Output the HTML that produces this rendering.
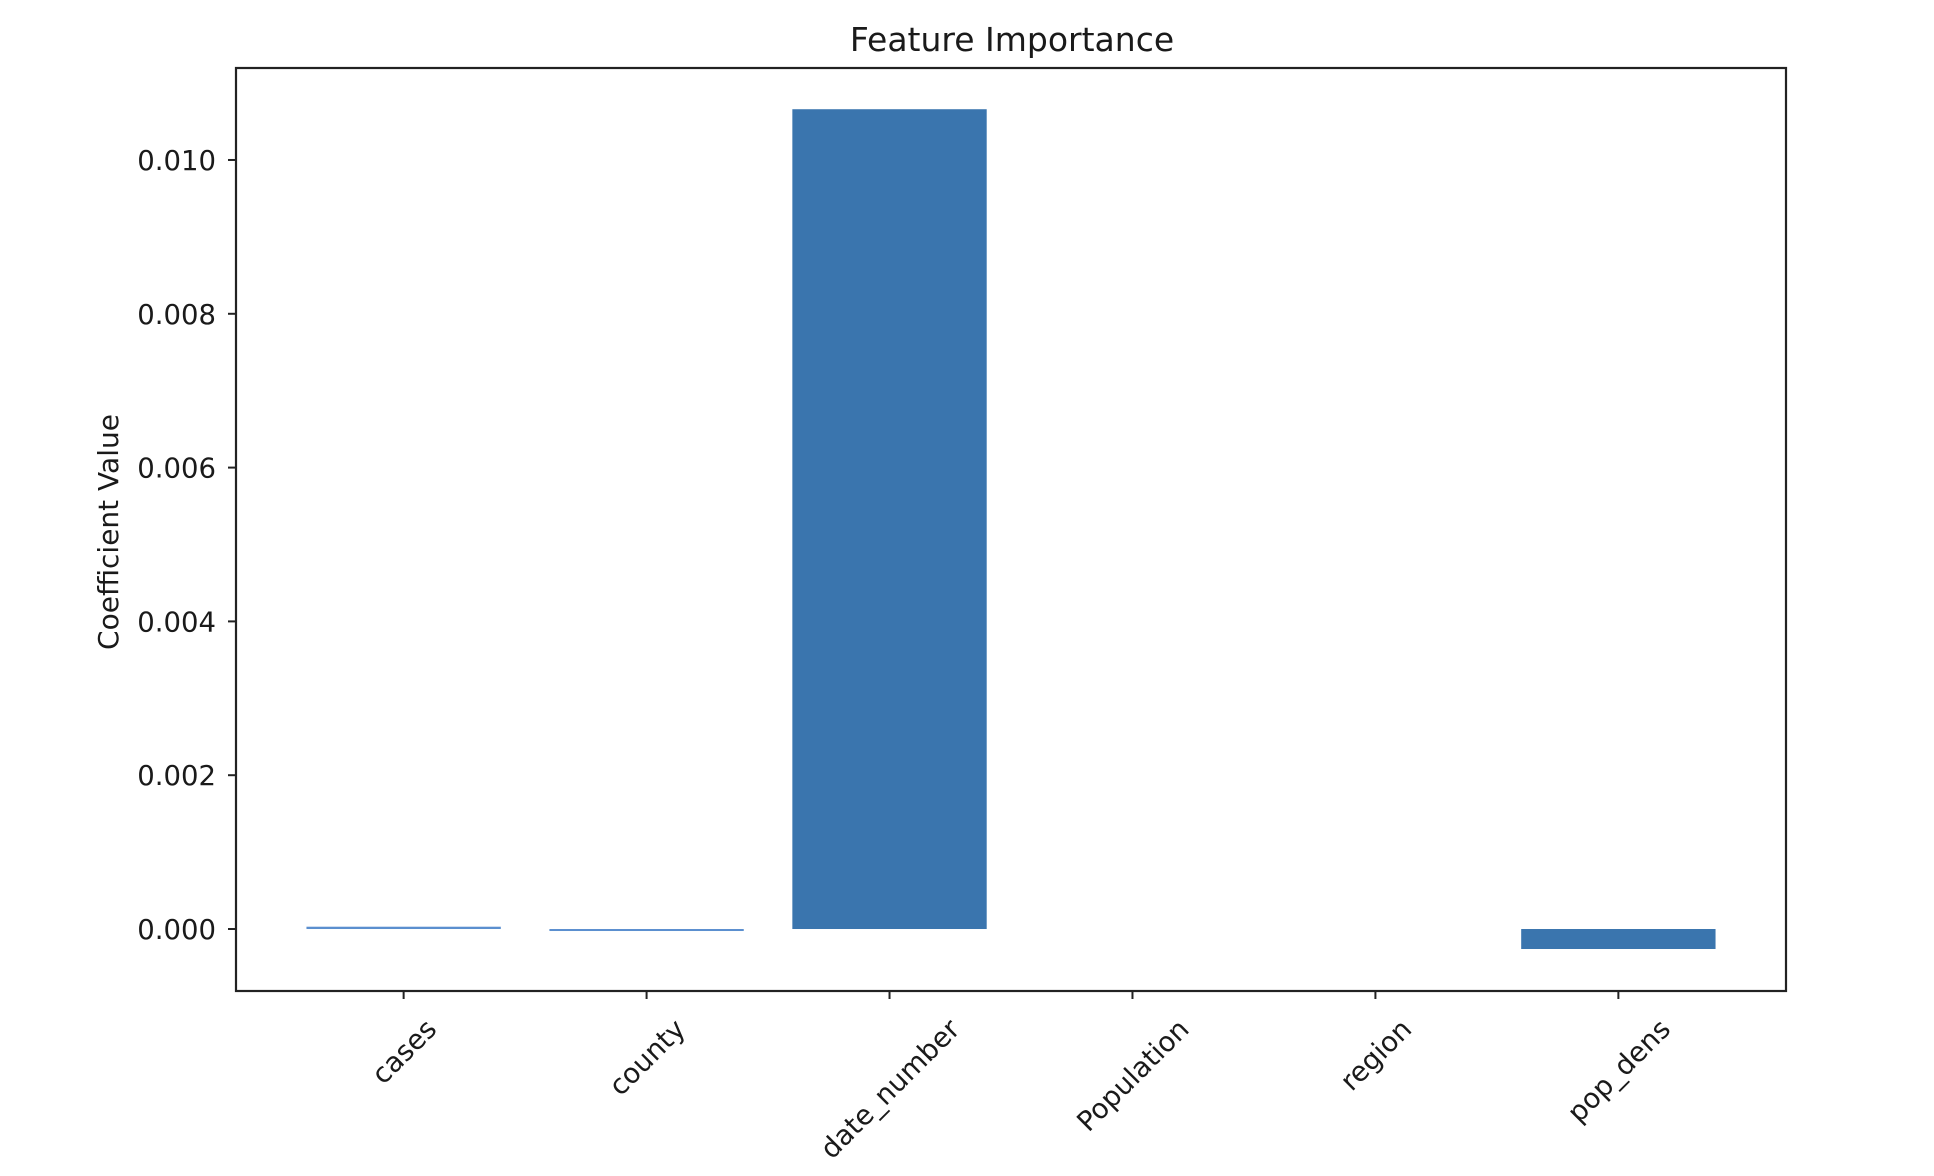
<!DOCTYPE html>
<html><head><meta charset="utf-8"><style>
html,body{margin:0;padding:0;background:#fff;width:1934px;height:1176px;overflow:hidden}
svg{display:block;font-family:"DejaVu Sans","Liberation Sans",sans-serif}
</style></head><body>
<svg id="chart" width="1934" height="1176" viewBox="0 0 1934 1176">
<rect width="1934" height="1176" fill="#fff"/>
<text x="1012" y="51" font-size="33" text-anchor="middle" fill="#1a1a1a">Feature Importance</text>
<text transform="translate(118,532) rotate(-90)" font-size="28" text-anchor="middle" fill="#1a1a1a">Coefficient Value</text>
<text x="1010" y="1199" font-size="28" text-anchor="middle" fill="#1a1a1a">Features</text>
<g id="bars"></g><g id="yticks"></g><g id="xticks"></g>
<rect x="236" y="68" width="1550" height="923" fill="none" stroke="#222" stroke-width="2.2"/>
</svg>
<script>
const categories = ["cases","county","date_number","Population","region","pop_dens"];
const values = [0.00003, -0.00001, 0.01066, 0, 0, -0.00026];
const yTickValues = [0.000,0.002,0.004,0.006,0.008,0.010];
const yTickLabels = ["0.000","0.002","0.004","0.006","0.008","0.010"];
const NS="http://www.w3.org/2000/svg";
const L=236,R=1786,T=68,B=991,xmin=-0.69,xmax=5.69,ymin=-0.000806,ymax=0.011196;
const xs=i=>L+(i-xmin)/(xmax-xmin)*(R-L);
const ys=v=>B-(v-ymin)/(ymax-ymin)*(B-T);
const bw=0.8*(R-L)/(xmax-xmin);
const bars=document.getElementById('bars');
values.forEach((v,i)=>{
  if(v===0) return;
  const r=document.createElementNS(NS,'rect');
  const y0=ys(Math.max(v,0)),y1=ys(Math.min(v,0));
  r.setAttribute('x',xs(i)-bw/2);r.setAttribute('width',bw);
  r.setAttribute('y',y0);r.setAttribute('height',Math.max(y1-y0,2));
  r.setAttribute('fill',Math.abs(v)<0.0001?'#5b8fcf':'#3a75ae');
  
  
  bars.appendChild(r);
});
const yt=document.getElementById('yticks');
yTickValues.forEach((v,i)=>{
  const y=ys(v);
  const l=document.createElementNS(NS,'line');
  l.setAttribute('x1',L-8);l.setAttribute('x2',L);l.setAttribute('y1',y);l.setAttribute('y2',y);
  l.setAttribute('stroke','#222');l.setAttribute('stroke-width','2');
  
  
  yt.appendChild(l);
  const t=document.createElementNS(NS,'text');
  t.setAttribute('x',L-20);t.setAttribute('y',y+10);t.setAttribute('text-anchor','end');
  t.setAttribute('font-size','27.5');t.setAttribute('fill','#1a1a1a');
  t.textContent=yTickLabels[i];
  
  
  yt.appendChild(t);
});
const xt=document.getElementById('xticks');
categories.forEach((c,i)=>{
  const x=xs(i);
  const l=document.createElementNS(NS,'line');
  l.setAttribute('x1',x);l.setAttribute('x2',x);l.setAttribute('y1',B);l.setAttribute('y2',B+8);
  l.setAttribute('stroke','#222');l.setAttribute('stroke-width','2');
  
  
  xt.appendChild(l);
  const t=document.createElementNS(NS,'text');
  t.setAttribute('font-size','27.5');t.setAttribute('fill','#1a1a1a');
  t.setAttribute('text-anchor','middle');t.setAttribute('x',0);t.setAttribute('y',10);
  t.textContent=c;
  
  
  xt.appendChild(t);
  const w=t.getComputedTextLength(),h=27.5;
  const half=(w+h)/Math.SQRT2/2;
  t.setAttribute('transform','translate('+x+','+(1014+half)+') rotate(-45)');
});
</script>
</body></html>
